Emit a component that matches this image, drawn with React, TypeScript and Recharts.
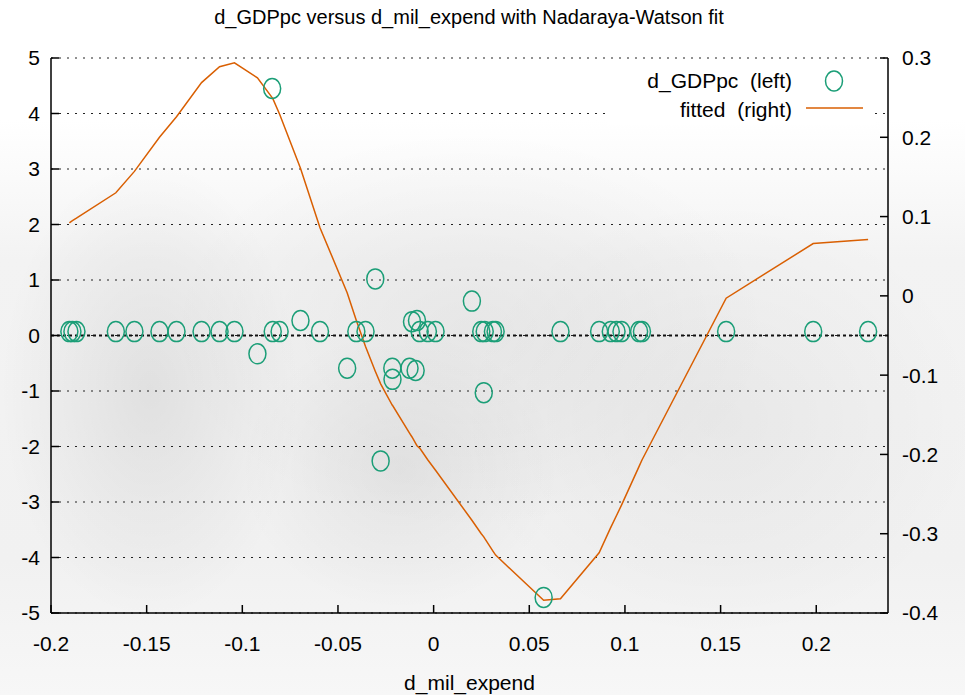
import React from "react";
import {ComposedChart, Line, Scatter, XAxis, YAxis, CartesianGrid, ReferenceLine} from "recharts";

// d_mil_expend (x), d_GDPpc (left axis), Nadaraya-Watson fitted (right axis)
const milExpend = [
    -0.1904, -0.1888, -0.1867, -0.1661, -0.1564, -0.1433, -0.1344, -0.1213, -0.1119, -0.1041,
    -0.0921, -0.0844, -0.0841, -0.0805, -0.0696, -0.0594, -0.0452, -0.0404, -0.0356, -0.0305,
    -0.0277, -0.0216, -0.0215, -0.0126, -0.0113, -0.0094, -0.0087, -0.0073, -0.0030, 0.0010,
    0.0200, 0.0249, 0.0262, 0.0267, 0.0310, 0.0324, 0.0575, 0.0663, 0.0865, 0.0926,
    0.0956, 0.0982, 0.1074, 0.1089, 0.1529, 0.1984, 0.2271,
];
const gdppc = [
    0.07, 0.07, 0.07, 0.07, 0.07, 0.07, 0.07, 0.07, 0.07, 0.07,
    -0.33, 4.45, 0.07, 0.07, 0.27, 0.07, -0.59, 0.07, 0.07, 1.02,
    -2.26, -0.59, -0.79, -0.59, 0.25, -0.63, 0.27, 0.07, 0.07, 0.07,
    0.62, 0.07, -1.03, 0.07, 0.07, 0.07, -4.72, 0.07, 0.07, 0.07,
    0.07, 0.07, 0.07, 0.07, 0.07, 0.07, 0.07,
];
const fitted = [
    0.092, 0.095, 0.098, 0.130, 0.157, 0.200, 0.226, 0.269, 0.289, 0.294,
    0.275, 0.250, 0.249, 0.229, 0.161, 0.086, 0.004, -0.031, -0.064, -0.095,
    -0.111, -0.138, -0.138, -0.173, -0.178, -0.186, -0.189, -0.192, -0.207, -0.220,
    -0.283, -0.300, -0.304, -0.306, -0.322, -0.327, -0.384, -0.382, -0.324, -0.292,
    -0.277, -0.264, -0.215, -0.207, -0.003, 0.066, 0.071,
];

const xTicks = [-0.2, -0.15, -0.1, -0.05, 0, 0.05, 0.1, 0.15, 0.2];
const leftTicks = [-5, -4, -3, -2, -1, 0, 1, 2, 3, 4, 5];
const rightTicks = [-0.4, -0.3, -0.2, -0.1, 0, 0.1, 0.2, 0.3];

const data = milExpend.map((x, i) => ({x, gdp: gdppc[i], fitted: fitted[i]}));

const FONT = "'Liberation Sans', Arial, sans-serif";
const GREEN = "#1b9e77";
const ORANGE = "#d95f02";
const tickStyle = {fill: "#000", fontSize: 21, fontFamily: FONT};

const Ring = (props: any) => {
    if (props.cx == null || props.cy == null) return null;
    return <ellipse cx={props.cx} cy={props.cy} rx={8.5} ry={10} fill="none" stroke={GREEN} strokeWidth={1.5}/>;
};

const KeyBox = () => (
    <div style={{position: "absolute", left: 607, top: 63, background: "#fff", width: 268, height: 62,
        fontFamily: FONT, fontSize: 21, lineHeight: "24px"}}>
        <div style={{position: "absolute", right: 83, top: 6, whiteSpace: "pre"}}>d_GDPpc  (left)</div>
        <div style={{position: "absolute", right: 83, top: 35, whiteSpace: "pre"}}>fitted  (right)</div>
        <svg width={268} height={62} style={{position: "absolute", left: 0, top: 0}}>
            <ellipse cx={227} cy={18} rx={8.5} ry={10} fill="none" stroke={GREEN} strokeWidth={1.5}/>
            <line x1={199} x2={256} y1={45} y2={45} stroke={ORANGE} strokeWidth={1.5}/>
        </svg>
    </div>
);

export default () => {
    return (
        <div style={{position: "absolute", left: 0, top: 0, width: 965, height: 695, overflow: "hidden",
            background: [
                "radial-gradient(ellipse 150px 230px at 150px 390px, rgba(0,0,0,0.075), rgba(0,0,0,0))",
                "radial-gradient(ellipse 160px 140px at 400px 470px, rgba(0,0,0,0.06), rgba(0,0,0,0))",
                "radial-gradient(ellipse 300px 200px at 470px 330px, rgba(0,0,0,0.05), rgba(0,0,0,0))",
                "radial-gradient(ellipse 260px 220px at 720px 420px, rgba(0,0,0,0.045), rgba(0,0,0,0))",
                "linear-gradient(#fff 0px, #fff 120px, #f3f3f3 260px, #f1f1f1 560px, #f7f7f7 695px)",
            ].join(", ")}}>
            <div style={{position: "absolute", left: 0, width: 938, top: 6, textAlign: "center",
                fontFamily: FONT, fontSize: 20}}>
                d_GDPpc versus d_mil_expend with Nadaraya-Watson fit
            </div>
            <ComposedChart width={965} height={695} data={data}
                margin={{top: 58, right: 0, left: 0, bottom: 0}}>
                <CartesianGrid yAxisId="left" horizontal={true} vertical={false}
                    stroke="#222" strokeDasharray="2 6" strokeWidth={1}/>
                <ReferenceLine yAxisId="left" y={0} stroke="#111" strokeWidth={2} strokeDasharray="3 3"/>
                <XAxis xAxisId="bottom" dataKey="x" type="number" domain={[-0.2, 0.2375]} ticks={xTicks}
                    allowDataOverflow height={82} stroke="#000" strokeWidth={1.5}
                    tickSize={-8} tickMargin={31} tick={tickStyle}
                    label={{value: "d_mil_expend", position: "insideBottom", offset: 5,
                        style: {fill: "#000", fontSize: 21, fontFamily: FONT}}}/>
                <XAxis xAxisId="top" orientation="top" dataKey="x" type="number" domain={[-0.2, 0.2375]}
                    ticks={xTicks} allowDataOverflow height={0} stroke="#000" strokeWidth={1.5}
                    tickSize={-8} tick={false}/>
                <YAxis yAxisId="left" domain={[-5, 5]} ticks={leftTicks} width={51} stroke="#000"
                    strokeWidth={1.5} tickSize={-8} tickMargin={19} tick={tickStyle} interval={0}/>
                <YAxis yAxisId="right" orientation="right" domain={[-0.4, 0.3]} ticks={rightTicks}
                    width={77} stroke="#000" strokeWidth={1.5} tickSize={-8} tickMargin={22}
                    tick={tickStyle} interval={0}/>
                <Scatter xAxisId="bottom" yAxisId="left" dataKey="gdp" shape={Ring} isAnimationActive={false}/>
                <Line xAxisId="bottom" yAxisId="right" dataKey="fitted" type="linear" stroke={ORANGE}
                    strokeWidth={1.5} dot={false} isAnimationActive={false}/>
            </ComposedChart>
            <KeyBox/>
        </div>
    );
};
